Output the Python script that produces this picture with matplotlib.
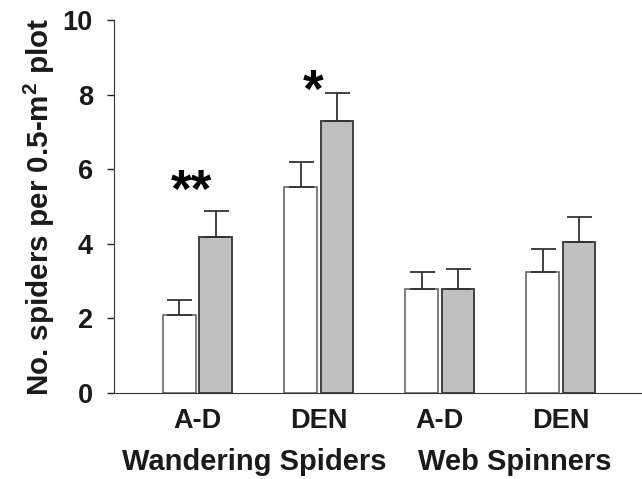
import numpy as np
import matplotlib
matplotlib.use("Agg")
import matplotlib.pyplot as plt

plt.rcParams['font.family'] = ['Liberation Sans', 'DejaVu Sans']
plt.rcParams['font.weight'] = 'bold'
plt.rcParams['mathtext.fontset'] = 'custom'
plt.rcParams['mathtext.bf'] = 'Liberation Sans:bold'
plt.rcParams['mathtext.rm'] = 'Liberation Sans:bold'

# data
categories = ["A-D", "DEN", "A-D", "DEN"]
groups = ["Wandering Spiders", "Web Spinners"]
white_means = [2.09, 5.51, 2.79, 3.24]
white_se = [0.39, 0.67, 0.45, 0.61]
gray_means = [4.17, 7.30, 2.79, 4.04]
gray_se = [0.72, 0.74, 0.52, 0.67]
stars = ["**", "*", "", ""]
star_y = [5.36, 8.04, 0, 0]

x = np.arange(len(categories))
w = 0.27
off = 0.15

fig = plt.figure(figsize=(6.42, 4.79), dpi=100)
ax = fig.add_axes([0.177, 0.180, 0.823, 0.778])

err_kw = dict(ecolor="#333333", elinewidth=1.3, capsize=9, capthick=1.3)
ax.bar(x - off, white_means, w, color="white", edgecolor="#666666", linewidth=1.2,
       yerr=[np.zeros(4), white_se], error_kw=err_kw, zorder=2)
ax.bar(x + off, gray_means, w, color="#c0c0c0", edgecolor="#404040", linewidth=1.4,
       yerr=[np.zeros(4), gray_se], error_kw=err_kw, zorder=2)

# significance stars
for i, s in enumerate(stars):
    if s:
        ax.text(x[i] - 0.05, star_y[i], s, ha="center", va="center",
                fontsize=38, fontweight="bold", color="black")

ax.set_ylim(0, 10)
ax.set_xlim(-0.694, 3.67)
ax.set_yticks([0, 2, 4, 6, 8, 10])
ax.tick_params(axis="y", labelsize=19.5, length=5, width=1, pad=10, colors="#222222")
ax.set_xticks(x)
ax.set_xticklabels(categories)
ax.tick_params(axis="x", length=0, labelsize=19.5, pad=11)
for lab in ax.get_yticklabels() + ax.get_xticklabels():
    lab.set_fontweight("bold")
    lab.set_color("#1a1a1a")

for s in ["top", "right"]:
    ax.spines[s].set_visible(False)
ax.spines["left"].set_color("#333333")
ax.spines["bottom"].set_color("#333333")

ax.set_ylabel(r"No. spiders per 0.5-m$^{\mathbf{2}}$ plot", fontsize=21.3,
              fontweight="bold", labelpad=4, color="#1a1a1a")

group_pos = [0.47, 2.62]
for g, gx in zip(groups, group_pos):
    ax.text(gx, -0.207, g, transform=ax.get_xaxis_transform(), ha="center",
            va="baseline", fontsize=21, fontweight="bold", color="#1a1a1a")

fig.savefig("out.png", dpi=100)
